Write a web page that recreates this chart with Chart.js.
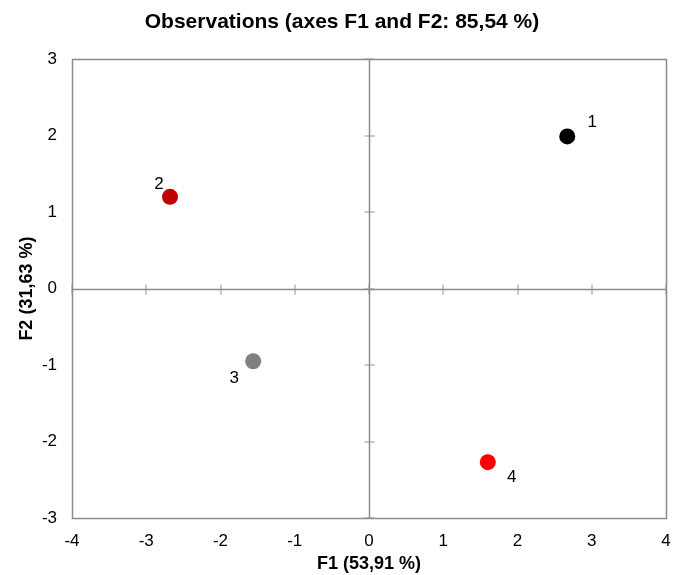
<!DOCTYPE html>
<html>
<head>
<meta charset="utf-8">
<script src="https://cdn.jsdelivr.net/npm/chart.js@4"></script>
<style>
  html, body { margin: 0; padding: 0; background: #ffffff; }
  #wrap { width: 674px; height: 575px; }
</style>
</head>
<body>
<div id="wrap"><canvas id="obsChart" width="674" height="575"></canvas></div>
<script>
const obsLabels = ['1', '2', '3', '4'];
const f1Values = [2.67, -2.68, -1.56, 1.60];
const f2Values = [1.99, 1.20, -0.95, -2.27];
const pointColors = ['#000000', '#c00000', '#808080', '#ff0000'];
// where each observation label sits relative to its point (px)
const labelOffsets = [[25, -14], [-11, -13], [-19, 17], [24, 15]];

const xMin = -4, xMax = 4;
const yMin = -3, yMax = 3;

const fontFamily = '"Liberation Sans", Arial, sans-serif';
const frameColor = '#8c8c8c';

const points = f1Values.map((v, i) => ({ x: v, y: f2Values[i] }));

const noPadding = () => ({ left: 0, top: 0, right: 0, bottom: 0 });

// frame, zero lines and the small ticks on the zero lines
const axesPlugin = {
    id: 'axesPlugin',
    beforeDatasetsDraw(chart) {
        const c = chart.ctx;
        const area = chart.chartArea;
        const xs = chart.scales.x;
        const ys = chart.scales.y;
        const x0 = Math.round(xs.getPixelForValue(0)) + 0.5;
        const y0 = Math.round(ys.getPixelForValue(0)) + 0.5;
        c.save();

        c.strokeStyle = '#c8c8c8';
        c.lineWidth = 2;
        xs.ticks.forEach(t => {
            const px = Math.round(xs.getPixelForValue(t.value));
            c.beginPath();
            c.moveTo(px, y0 - 5);
            c.lineTo(px, y0 + 5);
            c.stroke();
        });
        ys.ticks.forEach(t => {
            const py = Math.round(ys.getPixelForValue(t.value));
            c.beginPath();
            c.moveTo(x0 - 5, py);
            c.lineTo(x0 + 5, py);
            c.stroke();
        });

        c.strokeStyle = frameColor;
        c.lineWidth = 1.5;
        c.beginPath();
        c.moveTo(area.left, y0);
        c.lineTo(area.right, y0);
        c.moveTo(x0, area.top);
        c.lineTo(x0, area.bottom);
        c.stroke();

        c.strokeRect(Math.round(area.left) + 0.5, Math.round(area.top) + 0.5,
            Math.round(area.right - area.left), Math.round(area.bottom - area.top));
        c.restore();
    },
    afterDatasetsDraw(chart) {
        const c = chart.ctx;
        const meta = chart.getDatasetMeta(0);
        c.save();
        c.fillStyle = '#000000';
        c.font = '17px ' + fontFamily;
        c.textAlign = 'center';
        c.textBaseline = 'middle';
        meta.data.forEach((el, i) => {
            c.fillText(obsLabels[i], el.x + labelOffsets[i][0], el.y + labelOffsets[i][1]);
        });
        c.restore();
    }
};

const ctx = document.getElementById('obsChart').getContext('2d');
const obsChart = new Chart(ctx, {
    type: 'scatter',
    data: {
        datasets: [{
            data: points,
            backgroundColor: pointColors,
            borderColor: pointColors,
            pointRadius: 8,
            pointHoverRadius: 8,
            borderWidth: 0
        }]
    },
    options: {
        responsive: false,
        animation: false,
        devicePixelRatio: 1,
        layout: { padding: { left: 16, right: 6, top: 0, bottom: 0 } },
        plugins: {
            legend: { display: false },
            tooltip: { enabled: false },
            title: {
                display: true,
                text: 'Observations (axes F1 and F2: 85,54 %)',
                color: '#000000',
                font: { family: fontFamily, size: 21, weight: 'bold' },
                padding: { top: 10, bottom: 24 }
            }
        },
        scales: {
            x: {
                type: 'linear',
                min: xMin,
                max: xMax,
                grid: { display: false, drawTicks: false },
                border: { display: false },
                ticks: {
                    stepSize: 1,
                    padding: 13,
                    color: '#000000',
                    font: { family: fontFamily, size: 17 }
                },
                title: {
                    display: true,
                    text: 'F1 (53,91 %)',
                    color: '#000000',
                    font: { family: fontFamily, size: 18, weight: 'bold' },
                    padding: { top: 0, bottom: 0 }
                },
                afterFit(scale) {
                    scale.height = 57;
                    scale.getPadding = noPadding;
                }
            },
            y: {
                type: 'linear',
                min: yMin,
                max: yMax,
                grid: { display: false, drawTicks: false },
                border: { display: false },
                ticks: {
                    stepSize: 1,
                    padding: 15,
                    color: '#000000',
                    font: { family: fontFamily, size: 17 }
                },
                title: {
                    display: true,
                    text: 'F2 (31,63 %)',
                    color: '#000000',
                    font: { family: fontFamily, size: 18, weight: 'bold' },
                    padding: { top: 0, bottom: 0 }
                },
                afterFit(scale) {
                    scale.width = 56;
                    scale.getPadding = noPadding;
                }
            }
        }
    },
    plugins: [axesPlugin]
});
</script>
</body>
</html>
